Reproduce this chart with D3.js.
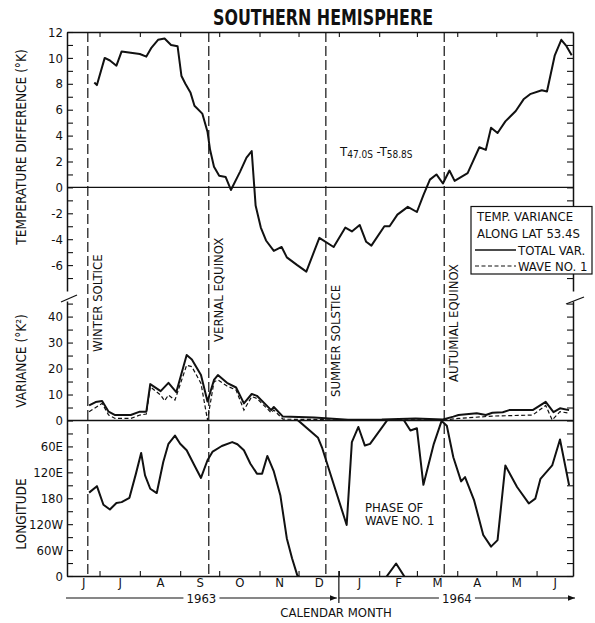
<!DOCTYPE html>
<html>
<head>
<meta charset="utf-8">
<script src="https://cdn.jsdelivr.net/npm/d3@7"></script>
<style>
  body { margin: 0; background: #fff; }
  svg text { font-family: "Liberation Sans Narrow", "Arial Narrow", "DejaVu Sans Condensed", "Liberation Sans", sans-serif; fill: #111; }
  .axis path, .axis line { stroke: #111; }
  .axis path { stroke-width: 1.5; }
  .axis line { stroke-width: 1.1; }
  .axis text { font-size: 13px; }
</style>
</head>
<body>
<div id="chart"></div>
<script>
// all series are keyed by day counted from 1 June 1963
var day0 = new Date(Date.UTC(1963, 5, 1));

// T(47.0S) - T(58.8S), deg K
var tempDays = [26,28,34,38,43,47,54,61,66,70,75,80,85,90,93,96,100,103,109,113,115,118,122,127,131,138,143,147,150,154,158,164,170,174,182,189,199,210,219,224,230,235,239,249,253,259,267,274,279,284,289,294,299,303,313,322,327,331,336,342,350,356,361,370,374,380,385,389,393];
var tempVals = [8.1,7.9,10.0,9.8,9.4,10.5,10.4,10.3,10.1,10.8,11.4,11.5,11.0,10.9,8.6,8.0,7.3,6.3,5.7,4.3,2.9,1.6,0.9,0.8,-0.2,1.2,2.3,2.8,-1.4,-3.1,-4.1,-4.9,-4.6,-5.4,-6.0,-6.5,-3.9,-4.6,-3.1,-3.4,-2.9,-4.2,-4.5,-3.0,-3.0,-2.1,-1.5,-1.9,-0.6,0.6,1.0,0.3,1.3,0.5,1.1,3.1,2.9,4.6,4.2,5.1,5.9,6.8,7.2,7.5,7.4,10.2,11.4,10.9,10.2];

// temperature variance along 53.4S, deg K^2
var varDays  = [22,27,32,37,42,54,61,66,69,77,83,89,97,101,108,113,118,121,128,135,141,147,151,162,164,171,195,221,247,273,294,302,306,320,327,332,340,345,363,373,379,384,391];
var varTotal = [5.8,7.1,7.5,3.4,2.1,2.1,3.4,3.4,14.0,11.3,14.5,10.9,25.2,23.5,17.5,7.3,15.6,17.5,14.5,12.7,6.6,10.2,9.5,4.0,5.2,1.5,1.2,0.3,0.4,0.8,0.4,1.5,2.1,2.8,2.1,3.0,3.2,4.0,4.0,7.2,3.2,4.7,4.0];
var waveDays = [22,32,37,42,54,61,66,69,77,80,83,88,97,101,108,113,118,121,128,135,141,147,151,162,164,171,195,221,247,273,294,306,332,363,373,378,384,391];
var waveVals = [3.4,6.6,2.1,0.8,0.8,2.1,2.5,13.0,9.8,7.6,9.8,7.9,21.3,20.7,14.3,0.2,14.9,15.6,13.3,11.7,4.0,9.2,8.5,3.0,4.0,0.5,0.4,0.1,0.2,0.3,0.2,0.8,1.7,2.1,5.8,0.2,3.4,2.8];

// phase of wave no. 1, degrees east (0..360)
var lonDays = [22,28,33,38,43,47,53,58,62,65,69,74,79,83,88,92,97,103,108,113,117,124,132,136,141,146,151,155,159,164,169,174,178,182,198,201,205,220,224,229,234,238,258,269,274,279,287,293,297,302,308,311,318,325,331,336,342,351,360,365,369,378,384,391];
var lonVals = [167,152,195,206,191,189,179,123,75,127,158,168,96,54,35,54,69,104,133,92,72,59,50,55,69,100,123,123,82,118,173,273,319,358,40,62,100,242,50,15,58,54,331,23,18,149,54,1,12,85,141,131,185,265,292,277,104,154,192,181,135,104,44,150];

var monthLabels = ["J","J","A","S","O","N","D","J","F","M","A","M","J"];
var seasonDates = ["1963-06-22","1963-09-23","1963-12-22","1964-03-22"];
var seasonNames = ["WINTER SOLTICE","VERNAL EQUINOX","SUMMER SOLSTICE","AUTUMIAL EQUINOX"];
var tempTicks = [-6,-4,-2,0,2,4,6,8,10,12];
var varTicks = [0,10,20,30,40];
var lonTicks = {60:"60E",120:"120E",180:"180",240:"120W",300:"60W",360:"0"};

var width = 595, height = 623;
var mLeft = 67, mRight = 573, mTop = 32, mBottom = 576;

var svg = d3.select("#chart").append("svg")
    .attr("width", width)
    .attr("height", height);

function dayDate(n) { return d3.utcDay.offset(day0, n); }

var x = d3.scaleUtc()
    .domain([new Date(Date.UTC(1963, 5, 6)), new Date(Date.UTC(1964, 5, 29))])
    .range([mLeft, mRight]);

var yT = d3.scaleLinear().domain([-8, 12]).range([291, mTop]);
var yV = d3.scaleLinear().domain([0, 46]).range([420.5, 301]);
var yL = d3.scaleLinear().domain([0, 360]).range([420.5, mBottom]);

// --- axes ---
function noLabel() { return ""; }

svg.append("g").attr("class", "axis").attr("transform", "translate(" + mLeft + ",0)")
    .call(d3.axisLeft(yT).tickValues(d3.range(-7, 13)).tickSize(-6).tickSizeOuter(0).tickPadding(4)
        .tickFormat(function(d) { return tempTicks.indexOf(d) >= 0 ? String(d) : ""; }));
svg.append("g").attr("class", "axis").attr("transform", "translate(" + mRight + ",0)")
    .call(d3.axisRight(yT).tickValues(d3.range(-7, 13)).tickSize(-6).tickSizeOuter(0).tickFormat(noLabel));

svg.append("g").attr("class", "axis").attr("transform", "translate(" + mLeft + ",0)")
    .call(d3.axisLeft(yV).tickValues(d3.range(0, 50, 5)).tickSize(-6).tickSizeOuter(0).tickPadding(4)
        .tickFormat(function(d) { return varTicks.indexOf(d) >= 0 ? String(d) : ""; }));
svg.append("g").attr("class", "axis").attr("transform", "translate(" + mRight + ",0)")
    .call(d3.axisRight(yV).tickValues(d3.range(0, 50, 5)).tickSize(-6).tickSizeOuter(0).tickFormat(noLabel));

svg.append("g").attr("class", "axis").attr("transform", "translate(" + mLeft + ",0)")
    .call(d3.axisLeft(yL).tickValues(d3.range(30, 361, 30)).tickSize(-6).tickSizeOuter(0).tickPadding(4)
        .tickFormat(function(d) { return lonTicks[d] || ""; }));
svg.append("g").attr("class", "axis").attr("transform", "translate(" + mRight + ",0)")
    .call(d3.axisRight(yL).tickValues(d3.range(30, 361, 30)).tickSize(-6).tickSizeOuter(0).tickFormat(noLabel));

var monthStarts = d3.utcMonths(new Date(Date.UTC(1963, 6, 1)), new Date(Date.UTC(1964, 5, 2)));
svg.append("g").attr("class", "axis").attr("transform", "translate(0," + mBottom + ")")
    .call(d3.axisBottom(x).tickValues(monthStarts).tickSize(-5).tickSizeOuter(0).tickFormat(noLabel));
svg.append("g").attr("class", "axis").attr("transform", "translate(0," + mTop + ")")
    .call(d3.axisTop(x).tickValues(monthStarts).tickSize(-5).tickSizeOuter(0).tickFormat(noLabel));

// month letters sit in the middle of each (visible) month
var bounds = [x.domain()[0]].concat(monthStarts, [x.domain()[1]]);
var mids = [];
for (var i = 0; i < bounds.length - 1; i++) {
    mids.push(new Date((+bounds[i] + +bounds[i + 1]) / 2));
}
svg.append("g").attr("class", "axis month").attr("transform", "translate(0," + mBottom + ")")
    .call(d3.axisBottom(x).tickValues(mids).tickSize(0).tickPadding(2)
        .tickFormat(function(d, i) { return monthLabels[i]; }))
    .select(".domain").remove();

// zero lines
svg.append("line").attr("x1", mLeft).attr("x2", mRight).attr("y1", yT(0)).attr("y2", yT(0))
    .attr("stroke", "#111").attr("stroke-width", 1.3);
svg.append("line").attr("x1", mLeft).attr("x2", mRight).attr("y1", yV(0)).attr("y2", yV(0))
    .attr("stroke", "#111").attr("stroke-width", 1.3);

// axis breaks
svg.append("path").attr("d", "M61,302L77,295").attr("stroke", "#111").attr("stroke-width", 1.3);
svg.append("path").attr("d", "M566,304L584,297").attr("stroke", "#111").attr("stroke-width", 1.3);

// season lines
var parseDay = d3.utcParse("%Y-%m-%d");
seasonDates.forEach(function(s) {
    var sx = x(parseDay(s));
    svg.append("line").attr("x1", sx).attr("x2", sx).attr("y1", mTop).attr("y2", mBottom)
        .attr("stroke", "#111").attr("stroke-width", 1.2).attr("stroke-dasharray", "10,4");
});
var seasonBase = [352, 342, 397, 382];
seasonNames.forEach(function(s, i) {
    var sx = x(parseDay(seasonDates[i])) + 14;
    svg.append("text")
        .attr("transform", "translate(" + sx + "," + seasonBase[i] + ") rotate(-90)")
        .style("font-size", "13px")
        .text(s);
});

// --- temperature difference ---
var tempData = tempDays.map(function(d, i) { return {day: d, v: tempVals[i]}; });
svg.append("path").datum(tempData)
    .attr("fill", "none").attr("stroke", "#111").attr("stroke-width", 2).attr("stroke-linejoin", "round")
    .attr("d", d3.line().x(function(d) { return x(dayDate(d.day)); }).y(function(d) { return yT(d.v); }));

// --- variance ---
var varLine = d3.line().x(function(d) { return x(dayDate(d.day)); }).y(function(d) { return yV(d.v); });
svg.append("path").datum(waveDays.map(function(d, i) { return {day: d, v: waveVals[i]}; }))
    .attr("fill", "none").attr("stroke", "#111").attr("stroke-width", 1.2).attr("stroke-dasharray", "4,2.5")
    .attr("d", varLine);
svg.append("path").datum(varDays.map(function(d, i) { return {day: d, v: varTotal[i]}; }))
    .attr("fill", "none").attr("stroke", "#111").attr("stroke-width", 2).attr("stroke-linejoin", "round")
    .attr("d", varLine);

// --- phase of wave 1 (wraps round the longitude panel) ---
svg.append("clipPath").attr("id", "lonclip").append("rect")
    .attr("x", mLeft).attr("y", yL(0)).attr("width", mRight - mLeft).attr("height", yL(360) - yL(0));
var unwrapped = [];
lonVals.forEach(function(v, i) {
    if (i === 0) { unwrapped.push(v); return; }
    var dv = v - lonVals[i - 1];
    if (dv > 250) dv -= 360;
    if (dv < -250) dv += 360;
    unwrapped.push(unwrapped[i - 1] + dv);
});
var lonData = lonDays.map(function(d, i) { return {day: d, v: unwrapped[i]}; });
var lonG = svg.append("g").attr("clip-path", "url(#lonclip)");
[-720, -360, 0, 360].forEach(function(off) {
    lonG.append("path").datum(lonData)
        .attr("fill", "none").attr("stroke", "#111").attr("stroke-width", 2).attr("stroke-linejoin", "round")
        .attr("d", d3.line().x(function(d) { return x(dayDate(d.day)); }).y(function(d) { return yL(d.v + off); }));
});

// --- legend ---
var lg = svg.append("g");
lg.append("rect").attr("x", 471).attr("y", 206.5).attr("width", 121).attr("height", 67.5)
    .attr("fill", "#fff").attr("stroke", "#111").attr("stroke-width", 1.2);
lg.append("text").attr("x", 477).attr("y", 221).style("font-size", "13px").text("TEMP. VARIANCE");
lg.append("text").attr("x", 477).attr("y", 237.5).style("font-size", "13px").text("ALONG LAT  53.4S");
lg.append("line").attr("x1", 475).attr("x2", 516).attr("y1", 250).attr("y2", 250)
    .attr("stroke", "#111").attr("stroke-width", 1.6);
lg.append("text").attr("x", 518).attr("y", 254.5).style("font-size", "13px").text("TOTAL  VAR.");
lg.append("line").attr("x1", 475).attr("x2", 516).attr("y1", 266).attr("y2", 266)
    .attr("stroke", "#111").attr("stroke-width", 1.2).attr("stroke-dasharray", "4,2.5");
lg.append("text").attr("x", 518).attr("y", 270.5).style("font-size", "13px").text("WAVE NO. 1");

// --- annotations ---
var ann = svg.append("text").attr("x", 340).attr("y", 156).style("font-size", "13px");
ann.append("tspan").text("T");
ann.append("tspan").attr("dy", 2).style("font-size", "10px").text("47.0S");
ann.append("tspan").attr("dy", -2).text(" -T");
ann.append("tspan").attr("dy", 2).style("font-size", "10px").text("58.8S");

svg.append("text").attr("x", 365).attr("y", 511.5).style("font-size", "13px").text("PHASE OF");
svg.append("text").attr("x", 365).attr("y", 525).style("font-size", "13px").text("WAVE NO. 1");

// --- titles ---
svg.append("text").attr("x", 323).attr("y", 25).attr("text-anchor", "middle")
    .attr("textLength", 220).attr("lengthAdjust", "spacingAndGlyphs")
    .style("font-size", "21px").style("font-weight", "bold").text("SOUTHERN HEMISPHERE");

svg.append("text").attr("transform", "translate(26,147) rotate(-90)").attr("text-anchor", "middle")
    .style("font-size", "13.5px").text("TEMPERATURE DIFFERENCE (°K)");
svg.append("text").attr("transform", "translate(26,361) rotate(-90)").attr("text-anchor", "middle")
    .style("font-size", "13.5px").text("VARIANCE (°K²)");
svg.append("text").attr("transform", "translate(26,514) rotate(-90)").attr("text-anchor", "middle")
    .style("font-size", "13.5px").text("LONGITUDE");

// --- year rows under the month axis ---
var yr = 598, jan1 = x(new Date(Date.UTC(1964, 0, 1)));
var years = [{label: "1963", x0: mLeft - 1, x1: jan1 - 2}, {label: "1964", x0: jan1, x1: mRight + 2}];
svg.append("defs").append("marker").attr("id", "arrow").attr("viewBox", "0 0 10 10")
    .attr("refX", 10).attr("refY", 5).attr("markerWidth", 7).attr("markerHeight", 7)
    .attr("markerUnits", "userSpaceOnUse").attr("orient", "auto")
    .append("path").attr("d", "M0,1L10,5L0,9Z").attr("fill", "#111");
years.forEach(function(yrow) {
    var cx = (yrow.x0 + yrow.x1) / 2;
    svg.append("line").attr("x1", yrow.x0).attr("x2", cx - 18).attr("y1", yr).attr("y2", yr)
        .attr("stroke", "#111").attr("stroke-width", 1.2);
    svg.append("line").attr("x1", cx + 18).attr("x2", yrow.x1).attr("y1", yr).attr("y2", yr)
        .attr("stroke", "#111").attr("stroke-width", 1.2).attr("marker-end", "url(#arrow)");
    svg.append("text").attr("x", cx).attr("y", yr + 5).attr("text-anchor", "middle")
        .style("font-size", "13px").text(yrow.label);
});
svg.append("line").attr("x1", jan1).attr("x2", jan1).attr("y1", 571).attr("y2", 603)
    .attr("stroke", "#111").attr("stroke-width", 1.2);
svg.append("text").attr("x", 336).attr("y", 617).attr("text-anchor", "middle")
    .style("font-size", "13px").text("CALENDAR MONTH");
</script>
</body>
</html>
